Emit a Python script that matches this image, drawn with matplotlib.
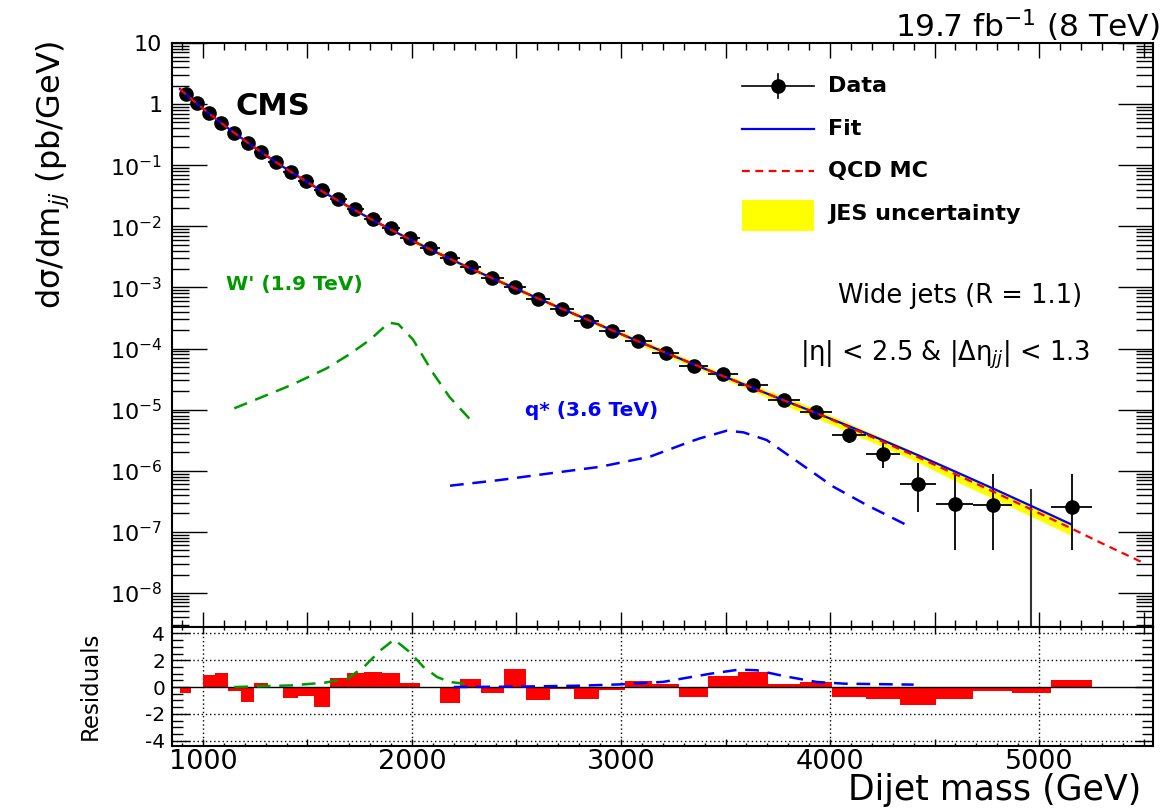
import numpy as np
import matplotlib
matplotlib.use("Agg")
import matplotlib.pyplot as plt
from matplotlib.ticker import MultipleLocator, FixedLocator, FuncFormatter, LogLocator, NullFormatter
from matplotlib.patches import Rectangle

plt.rcParams['font.family'] = ['DejaVu Sans']
plt.rcParams['axes.unicode_minus'] = False

# ---------------- data ----------------
bin_edges = [890, 944, 1000, 1058, 1118, 1181, 1246, 1313, 1383, 1455, 1530, 1607, 1687,
             1770, 1856, 1945, 2037, 2132, 2231, 2332, 2438, 2546, 2659, 2775, 2895, 3019,
             3147, 3279, 3416, 3558, 3704, 3854, 4010, 4171, 4337, 4509, 4686, 4869, 5058, 5253]

data_xsec = [1.46, 1.04, 0.71, 0.49, 0.336, 0.231, 0.164, 0.113, 0.0774, 0.0551, 0.0392,
             0.0280, 0.0192, 0.0132, 0.00938, 0.00644, 0.00441, 0.00303, 0.00216, 0.00143,
             1.02e-3, 6.46e-4, 4.43e-4, 2.82e-4, 1.93e-4, 1.33e-4, 8.44e-5, 5.17e-5, 3.83e-5,
             2.53e-5, 1.44e-5, 9.14e-6, 3.84e-6, 1.87e-6, 6.05e-7, 2.85e-7, 2.75e-7, np.nan, 2.55e-7]
data_err_lo = [0] * 28 + [3.0e-6, 2.5e-6, 1.8e-6, 1.4e-6, 1.0e-6, 7.6e-7, 3.95e-7, 2.35e-7,
                          2.25e-7, 0, 2.05e-7]
data_err_hi = [0] * 28 + [3.0e-6, 2.5e-6, 2.0e-6, 1.6e-6, 1.16e-6, 9.7e-7, 7.35e-7, 5.95e-7,
                          6.05e-7, 0, 6.25e-7]
empty_bin_mass = 4963
empty_bin_upper = 5.0e-7

fit_mass = [890, 917, 972, 1029, 1088, 1150, 1214, 1280, 1348, 1419, 1493, 1569, 1647, 1729,
            1813, 1901, 1991, 2085, 2182, 2282, 2385, 2492, 2602, 2717, 2835, 2957, 3083,
            3213, 3347, 3487, 3631, 3779, 3932, 4090, 4254, 4423, 4597, 4777, 4963, 5155]
fit_xsec = [1.77, 1.46, 1.015, 0.704, 0.489, 0.339, 0.235, 0.163, 0.113, 0.0786, 0.0545,
            0.0378, 0.0262, 0.0182, 0.01264, 0.00877, 0.00608, 0.00422, 0.00293, 0.00203,
            0.00141, 9.70e-4, 6.63e-4, 4.48e-4, 3.01e-4, 1.99e-4, 1.31e-4, 8.57e-5, 5.53e-5,
            3.55e-5, 2.26e-5, 1.42e-5, 8.86e-6, 5.37e-6, 3.14e-6, 1.78e-6, 9.74e-7, 5.17e-7,
            2.65e-7, 1.32e-7]

qcd_mass = [890, 917, 972, 1029, 1088, 1150, 1214, 1280, 1348, 1419, 1493, 1569, 1647, 1729,
            1813, 1901, 1991, 2085, 2182, 2282, 2385, 2492, 2602, 2717, 2835, 2957, 3083,
            3213, 3347, 3487, 3631, 3779, 3932, 4090, 4254, 4423, 4597, 4777, 4963, 5155,
            5300, 5500]
qcd_xsec = [1.77, 1.46, 1.015, 0.704, 0.489, 0.339, 0.235, 0.163, 0.113, 0.0786, 0.0545,
            0.0378, 0.0262, 0.0182, 0.01264, 0.00877, 0.00608, 0.00422, 0.00293, 0.00203,
            0.00141, 9.70e-4, 6.63e-4, 4.48e-4, 3.01e-4, 1.99e-4, 1.31e-4, 8.57e-5, 5.53e-5,
            3.55e-5, 2.26e-5, 1.42e-5, 8.86e-6, 5.17e-6, 2.97e-6, 1.65e-6, 8.86e-7, 4.62e-7,
            2.32e-7, 1.135e-7, 6.5e-8, 3.1e-8]
# relative JES uncertainty (up / down) for the first 40 QCD points
jes_up = [0.12] + [0.058] * 15 + [0.099] * 10 + [0.12] * 5 + [0.163] * 9
jes_dn = [0.055] * 16 + [0.073] * 10 + [0.107] * 5 + [0.172] * 5 + [0.232] * 4

wprime_mass = [1150, 1420, 1590, 1700, 1800, 1890, 1935, 2005, 2100, 2180, 2280]
wprime_xsec = [1.05e-5, 2.5e-5, 4.7e-5, 8.0e-5, 1.4e-4, 2.65e-4, 2.5e-4, 1.4e-4, 4.0e-5,
               1.6e-5, 6.8e-6]
qstar_mass = [2182, 2421, 2660, 2900, 3139, 3330, 3378, 3506, 3585, 3697, 3856, 4016, 4175, 4383]
qstar_xsec = [5.69e-7, 7.05e-7, 9.06e-7, 1.16e-6, 1.70e-6, 2.98e-6, 3.39e-6, 4.52e-6, 4.25e-6,
              3.18e-6, 1.32e-6, 5.47e-7, 2.75e-7, 1.21e-7]

residuals = [-0.45, 0.0, 0.93, 1.08, -0.3, -1.08, 0.3, 0.0, -0.83, -0.7, -1.5, 0.7, 1.05, 1.1,
             1.05, 0.3, -0.1, -1.18, 0.62, -0.45, 1.38, -1.0, -0.15, -0.93, -0.25, 0.42, 0.22,
             -0.75, 0.82, 1.12, 0.22, 0.35, -0.75, -0.93, -1.32, -0.93, -0.28, -0.45, 0.55]
res_wprime_mass = [1150, 1420, 1580, 1690, 1770, 1850, 1915, 1990, 2055, 2120, 2180, 2250]
res_wprime = [0.0, 0.12, 0.32, 0.62, 1.5, 2.75, 3.55, 2.6, 1.5, 0.75, 0.38, 0.25]
res_qstar_mass = [2200, 2500, 2800, 3000, 3200, 3430, 3565, 3650, 3785, 3935, 4070, 4400]
res_qstar = [0.0, 0.03, 0.1, 0.2, 0.38, 1.0, 1.3, 1.25, 0.8, 0.38, 0.25, 0.18]

x_tick_labels = [1000, 2000, 3000, 4000, 5000]
res_y_ticks = [-4, -2, 0, 2, 4]

# ---------------- figure ----------------
W, H = 1167, 809
fig = plt.figure(figsize=(W / 100, H / 100), dpi=100)
ax = fig.add_axes([172 / W, 1 - 627 / H, 981 / W, 584 / H])
ax2 = fig.add_axes([172 / W, 1 - 746 / H, 981 / W, 119 / H], sharex=ax)

edges = np.array(bin_edges, dtype=float)
centers = 0.5 * (edges[:-1] + edges[1:])
halfw = 0.5 * np.diff(edges)

qm = np.array(qcd_mass, float)
qx = np.array(qcd_xsec, float)
nb = len(jes_up)
ax.fill_between(qm[:nb], qx[:nb] * (1 - np.array(jes_dn)), qx[:nb] * (1 + np.array(jes_up)),
                color='#ffff00', lw=0, zorder=1)

ax.errorbar(centers, data_xsec, xerr=halfw, yerr=[data_err_lo, data_err_hi], fmt='o',
            color='black', ms=9.5, elinewidth=1.3, capsize=0, zorder=2)
ax.vlines(empty_bin_mass, 1e-12, empty_bin_upper, color='#333333', lw=1.5, zorder=2)

ax.plot(fit_mass, fit_xsec, color='#0000ff', lw=1.6, zorder=3)
ax.plot(qcd_mass, qcd_xsec, color='#ff0000', lw=1.6, dashes=(3.5, 2.5), zorder=4)

ax.plot(wprime_mass, wprime_xsec, color='#009a00', lw=1.8, dashes=(5.5, 3.5), zorder=3)
ax.plot(qstar_mass, qstar_xsec, color='#0000ff', lw=1.8, dashes=(5.5, 3.5), zorder=3)

ax.set_yscale('log')
ax.set_xlim(852, 5545)
ax.set_ylim(2.77e-9, 10)


def ylab(v, pos):
    e = int(round(np.log10(v)))
    if e == 1:
        return '10'
    if e == 0:
        return '1'
    return r'$10^{%d}$' % e


ax.yaxis.set_major_locator(LogLocator(base=10, numticks=30))
ax.yaxis.set_minor_locator(LogLocator(base=10, subs=np.arange(2, 10), numticks=30))
ax.yaxis.set_major_formatter(FuncFormatter(ylab))
ax.yaxis.set_minor_formatter(NullFormatter())
ax.xaxis.set_major_locator(MultipleLocator(500))
ax.xaxis.set_minor_locator(MultipleLocator(100))
ax.tick_params(axis='x', which='both', labelbottom=False)
ax.tick_params(which='both', direction='in', top=True, right=True, width=1.0)
ax.tick_params(axis='y', which='major', length=25, labelsize=16, pad=7)
ax.tick_params(axis='y', which='minor', length=12)
ax.tick_params(axis='x', which='major', length=11)
ax.tick_params(axis='x', which='minor', length=5)
for s in ax.spines.values():
    s.set_linewidth(1.5)

# texts
ax.text(0.0652, 0.877, 'CMS', transform=ax.transAxes, fontsize=22, fontweight='bold',
        va='baseline')
fig.text(1159 / W, 1 - 37 / H, '19.7 fb$^{-1}$ (8 TeV)', ha='right', va='baseline', fontsize=22.5)
ax.text(0.9276, 0.555, 'Wide jets (R = 1.1)', transform=ax.transAxes, ha='right',
        va='baseline', fontsize=18.5)
ax.text(0.9358, 0.457, r'|η| < 2.5 & |Δη$_{jj}$| < 1.3', transform=ax.transAxes, ha='right',
        va='baseline', fontsize=18.5)
ax.text(0.055, 0.577, "W' (1.9 TeV)", transform=ax.transAxes, color='#009a00',
        fontweight='bold', fontsize=14.5, va='baseline')
ax.text(0.36, 0.361, 'q* (3.6 TeV)', transform=ax.transAxes, color='#0000ff',
        fontweight='bold', fontsize=14.5, va='baseline')

# legend
rows = [0.9264, 0.8527, 0.7808, 0.7072]
lx0, lx1, lxc, ltx = 0.581, 0.6544, 0.6177, 0.6687
tr = ax.transAxes
ax.plot([lx0, lx1], [rows[0]] * 2, transform=tr, color='black', lw=1.2)
ax.plot([lxc] * 2, [rows[0] - 0.021, rows[0] + 0.021], transform=tr, color='black', lw=1.2)
ax.plot([lxc], [rows[0]], 'o', ms=9.5, color='black', transform=tr)
ax.plot([lx0, lx1], [rows[1]] * 2, transform=tr, color='#0000ff', lw=1.6)
ax.plot([lx0, lx1], [rows[2]] * 2, transform=tr, color='#ff0000', lw=1.6, dashes=(3.5, 2.5))
ax.add_patch(Rectangle((lx0, 0.678), lx1 - lx0, 0.053, transform=tr, color='#ffff00', lw=0))
for r, t in zip(rows, ['Data', 'Fit', 'QCD MC', 'JES uncertainty']):
    ax.text(ltx, r, t, transform=tr, fontsize=16, fontweight='bold', va='center')

fig.text(0.045, 1 - 40 / H, 'dσ/dm$_{jj}$ (pb/GeV)', rotation=90, ha='center', va='top',
         fontsize=23)

# ---------------- residual panel ----------------
ax2.bar(edges[:-1], residuals, width=np.diff(edges), align='edge', color='#ff0000', lw=0,
        zorder=2)
ax2.axhline(0, color='black', lw=1.0, zorder=3)
for v in x_tick_labels:
    ax2.axvline(v, color='black', ls=(0, (1, 2)), lw=1.0, zorder=1)
for v in res_y_ticks:
    if v != 0:
        ax2.axhline(v, color='black', ls=(0, (1, 2)), lw=1.0, zorder=1)
ax2.plot(res_wprime_mass, res_wprime, color='#009a00', lw=1.8, dashes=(5.5, 3.5), zorder=4)
ax2.plot(res_qstar_mass, res_qstar, color='#0000ff', lw=1.8, dashes=(5.5, 3.5), zorder=4)

ax2.set_ylim(-4.4, 4.48)
ax2.yaxis.set_major_locator(FixedLocator(res_y_ticks))
ax2.yaxis.set_minor_locator(MultipleLocator(0.5))
ax2.xaxis.set_major_locator(MultipleLocator(500))
ax2.xaxis.set_minor_locator(MultipleLocator(100))
ax2.xaxis.set_major_formatter(FuncFormatter(
    lambda v, p: '%d' % v if int(round(v)) in x_tick_labels else ''))
ax2.tick_params(which='both', direction='in', top=True, right=True, width=1.0)
ax2.tick_params(axis='y', which='major', length=13, labelsize=14.5, pad=5)
ax2.tick_params(axis='y', which='minor', length=8)
ax2.tick_params(axis='x', which='major', length=5, labelsize=19.5, pad=2)
ax2.tick_params(axis='x', which='minor', length=2.5)
for s in ax2.spines.values():
    s.set_linewidth(1.5)

fig.text(90 / W, 1 - 686 / H, 'Residuals', rotation=90, ha='center', va='center', fontsize=16.5)
fig.text(1141 / W, 9 / H, 'Dijet mass (GeV)', ha='right', va='baseline', fontsize=25)

fig.savefig('out.png', dpi=100)
